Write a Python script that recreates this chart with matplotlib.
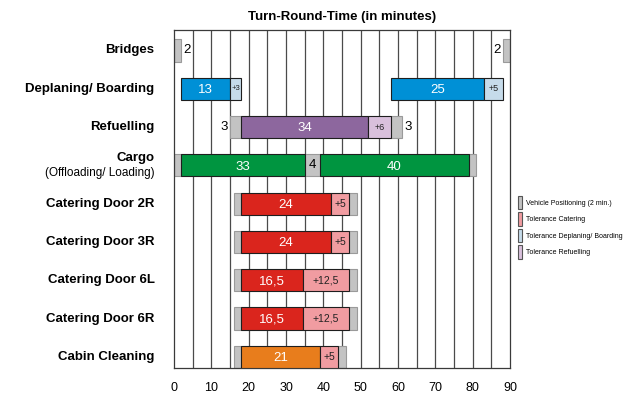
import matplotlib.pyplot as plt
from matplotlib.patches import Patch
from matplotlib.transforms import blended_transform_factory

plt.rcParams['font.family'] = ['Liberation Sans', 'DejaVu Sans']

tasks = ['Bridges', 'Deplaning/ Boarding', 'Refuelling', 'Cargo',
         'Catering Door 2R', 'Catering Door 3R', 'Catering Door 6L',
         'Catering Door 6R', 'Cabin Cleaning']
task_sub = {3: '(Offloading/ Loading)'}

# start minute and duration of every block in each row
seg_start = [
    [0, 88],
    [2, 15, 58, 83],
    [15, 18, 52, 58],
    [0, 2, 35, 39, 79],
    [16, 18, 42, 47],
    [16, 18, 42, 47],
    [16, 18, 34.5, 47],
    [16, 18, 34.5, 47],
    [16, 18, 39, 44],
]
seg_len = [
    [2, 2],
    [13, 3, 25, 5],
    [3, 34, 6, 3],
    [2, 33, 4, 40, 2],
    [2, 24, 5, 2],
    [2, 24, 5, 2],
    [2, 16.5, 12.5, 2],
    [2, 16.5, 12.5, 2],
    [2, 21, 5, 2],
]
seg_kind = [
    ['veh', 'veh'],
    ['dep', 'dep_tol', 'dep', 'dep_tol'],
    ['veh', 'fuel', 'fuel_tol', 'veh'],
    ['veh', 'cargo', 'veh', 'cargo', 'veh'],
    ['veh', 'cat', 'cat_tol', 'veh'],
    ['veh', 'cat', 'cat_tol', 'veh'],
    ['veh', 'cat', 'cat_tol', 'veh'],
    ['veh', 'cat', 'cat_tol', 'veh'],
    ['veh', 'clean', 'cat_tol', 'veh'],
]

colors = {
    'veh': '#c3c3c3', 'dep': '#0090d6', 'dep_tol': '#c6dbea',
    'fuel': '#8d679e', 'fuel_tol': '#d9c0dc', 'cargo': '#009540',
    'cat': '#da251d', 'cat_tol': '#f19ca1', 'clean': '#e87d1c',
}
# which vehicle-positioning blocks carry their number, and where
veh_label = {(0, 0): 'right', (0, 1): 'left', (2, 0): 'left',
             (2, 3): 'right', (3, 2): 'in'}

legend_items = [('veh', 'Vehicle Positioning (2 min.)'),
                ('cat_tol', 'Tolerance Catering'),
                ('dep_tol', 'Tolerance Deplaning/ Boarding'),
                ('fuel_tol', 'Tolerance Refuelling')]


def fmt(v):
    return f'{v:g}'.replace('.', ',')


fig = plt.figure(figsize=(6.43, 3.99), dpi=100)
ax = fig.add_axes([174 / 643, 1 - 368 / 399, 336 / 643, 338 / 399])

for x in range(5, 90, 5):
    ax.axvline(x, color='#4a4a4a', lw=0.9, zorder=0)

h = 0.58
for i in range(len(tasks)):
    for j, (s, w, k) in enumerate(zip(seg_start[i], seg_len[i], seg_kind[i])):
        if k == 'veh':
            ax.barh(i, w, left=s, height=h, color=colors[k],
                    edgecolor='#9a9a9a', lw=0.8, zorder=2)
            side = veh_label.get((i, j))
            if side == 'right':
                ax.text(s + w + 0.6, i, fmt(w), ha='left', va='center',
                        fontsize=9.5, zorder=4)
            elif side == 'left':
                ax.text(s - 0.6, i, fmt(w), ha='right', va='center',
                        fontsize=9.5, zorder=4)
            elif side == 'in':
                ax.text(s + w / 2, i, fmt(w), ha='center', va='center',
                        fontsize=9.5, zorder=4)
        else:
            ax.barh(i, w, left=s, height=h, color=colors[k],
                    edgecolor='#1e1e1e', lw=0.8, zorder=3)
            if k.endswith('_tol'):
                fs = 5.5 if w < 4 else (6.5 if k != 'cat_tol' else 7.5)
                ax.text(s + w / 2, i, '+' + fmt(w), ha='center',
                        va='center', fontsize=fs, color='#222222', zorder=4)
            else:
                ax.text(s + w / 2, i + 0.03, fmt(w), ha='center',
                        va='center', fontsize=9.5, color='white', zorder=4)

ax.set_xlim(0, 90)
ax.set_ylim(8.29, -0.535)
ax.set_xticks(range(0, 91, 10))
ax.tick_params(axis='x', length=0, pad=10, labelsize=9)
ax.set_yticks([])
for sp in ax.spines.values():
    sp.set_color('#3a3a3a')
    sp.set_linewidth(0.9)

trans = blended_transform_factory(ax.transAxes, ax.transData)
for i, name in enumerate(tasks):
    if i in task_sub:
        ax.text(-0.058, i - 0.2, name, transform=trans, ha='right',
                va='center', fontsize=9.5, fontweight='bold')
        ax.text(-0.058, i + 0.2, task_sub[i], transform=trans, ha='right',
                va='center', fontsize=8.5)
    else:
        ax.text(-0.058, i, name, transform=trans, ha='right', va='center',
                fontsize=9.5, fontweight='bold')

ax.set_title('Turn-Round-Time (in minutes)', fontsize=9.5,
             fontweight='bold', pad=7)

handles = [Patch(facecolor=colors[k], edgecolor='#555555', lw=0.8, label=t)
           for k, t in legend_items]
fig.legend(handles=handles, loc='upper left',
           bbox_to_anchor=(515 / 643, 1 - 193 / 399), frameon=False,
           fontsize=5, handlelength=0.6, handleheight=2.6,
           handletextpad=0.6, labelspacing=0.45, borderaxespad=0)

fig.savefig('out.png', dpi=100)
